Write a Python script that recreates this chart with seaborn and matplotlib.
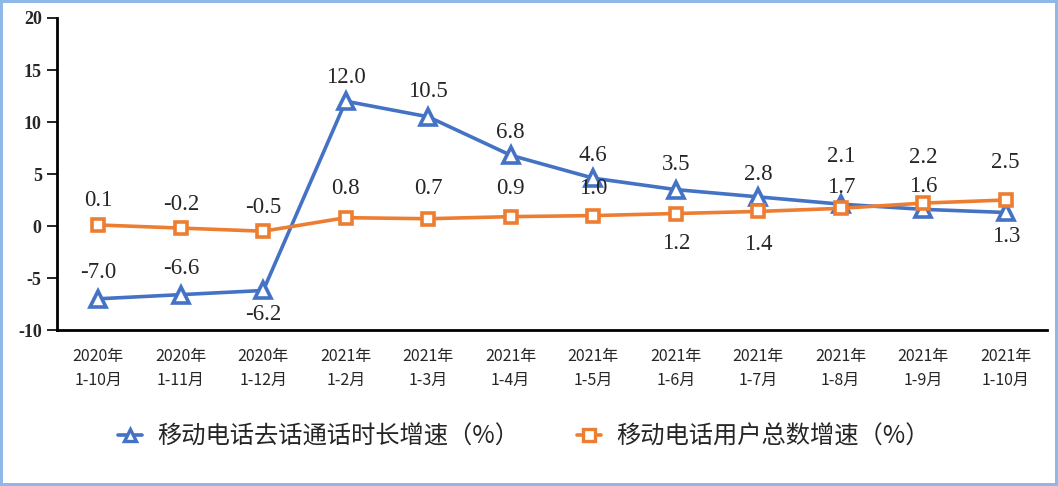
import numpy as np
import pandas as pd
import seaborn as sns
import matplotlib.pyplot as plt
from matplotlib.lines import Line2D

months = ["2020年\n1-10月", "2020年\n1-11月", "2020年\n1-12月", "2021年\n1-2月",
          "2021年\n1-3月", "2021年\n1-4月", "2021年\n1-5月", "2021年\n1-6月",
          "2021年\n1-7月", "2021年\n1-8月", "2021年\n1-9月", "2021年\n1-10月"]
call_growth = [-7.0, -6.6, -6.2, 12.0, 10.5, 6.8, 4.6, 3.5, 2.8, 2.1, 1.6, 1.3]
user_growth = [0.1, -0.2, -0.5, 0.8, 0.7, 0.9, 1.0, 1.2, 1.4, 1.7, 2.2, 2.5]
call_name = "移动电话去话通话时长增速（%）"
user_name = "移动电话用户总数增速（%）"

# label offsets in pixels (dx, dy) relative to the point
call_off = [(0, 26), (0, 26), (0, -24), (0, 24), (0, 25), (0, 23), (0, 23), (0, 25),
            (0, 22), (0, 48), (0, 23), (0, -24)]
user_off = [(0, 24), (0, 24), (0, 24), (0, 29), (0, 30), (0, 28), (0, 27), (0, -30),
            (0, -33), (0, 21), (0, 46), (0, 38)]

blue = "#4472C4"
orange = "#ED7D31"

sns.set_style("white")
plt.rcParams["font.family"] = ["Noto Sans CJK SC", "DejaVu Sans"]

df = pd.DataFrame({"pos": np.arange(len(months)), "call": call_growth, "user": user_growth})

fig = plt.figure(figsize=(10.58, 4.86), dpi=100)
fig.patch.set_edgecolor("#8DB8E8")
fig.patch.set_linewidth(3)
ax = fig.add_axes([57 / 1058, 1 - 330 / 486, 990 / 1058, 312 / 486])

sns.lineplot(data=df, x="pos", y="call", ax=ax, color=blue, lw=2.6,
             marker="^", markersize=12, markerfacecolor="white",
             markeredgecolor=blue, markeredgewidth=2.6)
sns.lineplot(data=df, x="pos", y="user", ax=ax, color=orange, lw=2.6,
             marker="s", markersize=8.5, markerfacecolor="white",
             markeredgecolor=orange, markeredgewidth=2.6)

for i, v in enumerate(call_growth):
    ax.annotate(f"{v:.1f}", (i, v), xytext=(call_off[i][0] * 0.72, call_off[i][1] * 0.72),
                textcoords="offset points", ha="center", va="center",
                fontsize=16.5, family="Liberation Serif")
for i, v in enumerate(user_growth):
    ax.annotate(f"{v:.1f}", (i, v), xytext=(user_off[i][0] * 0.72, user_off[i][1] * 0.72),
                textcoords="offset points", ha="center", va="center",
                fontsize=16.5, family="Liberation Serif")

ax.set_xlim(-0.5, len(months) - 0.5)
ax.set_ylim(-10, 20)
ax.set_yticks([-10, -5, 0, 5, 10, 15, 20])
ax.set_yticklabels(["-10", "-5", "0", "5", "10", "15", "20"],
                   family="Liberation Serif", fontweight="bold", fontsize=13)
ax.set_xticks(np.arange(-0.5, len(months), 1.0))
ax.set_xticklabels([])
ax.set_xticks(np.arange(len(months)), minor=True)
ax.set_xticklabels(months, minor=True, fontsize=11.5, linespacing=1.55)
ax.tick_params(axis="x", which="major", direction="out", length=7, width=1.2, color="black")
ax.tick_params(axis="x", which="minor", length=0, pad=13)
ax.tick_params(axis="y", direction="out", length=7, width=1.2, color="black", pad=4, left=True)
ax.set_xlabel("")
ax.set_ylabel("")
for s in ["top", "right"]:
    ax.spines[s].set_visible(False)
for s in ["left", "bottom"]:
    ax.spines[s].set_color("black")
    ax.spines[s].set_linewidth(2)

handles = [
    Line2D([], [], color=blue, lw=2.6, marker="^", markersize=9,
           markerfacecolor="white", markeredgecolor=blue, markeredgewidth=2.4),
    Line2D([], [], color=orange, lw=2.6, marker="s", markersize=8,
           markerfacecolor="white", markeredgecolor=orange, markeredgewidth=2.4),
]
fig.legend(handles, [call_name, user_name], loc="center", bbox_to_anchor=(0.495, 1 - 437 / 486),
           ncol=2, frameon=False, fontsize=17.5, handlelength=1.0, handletextpad=0.6,
           columnspacing=2.4)

fig.savefig("out.png", dpi=100)
